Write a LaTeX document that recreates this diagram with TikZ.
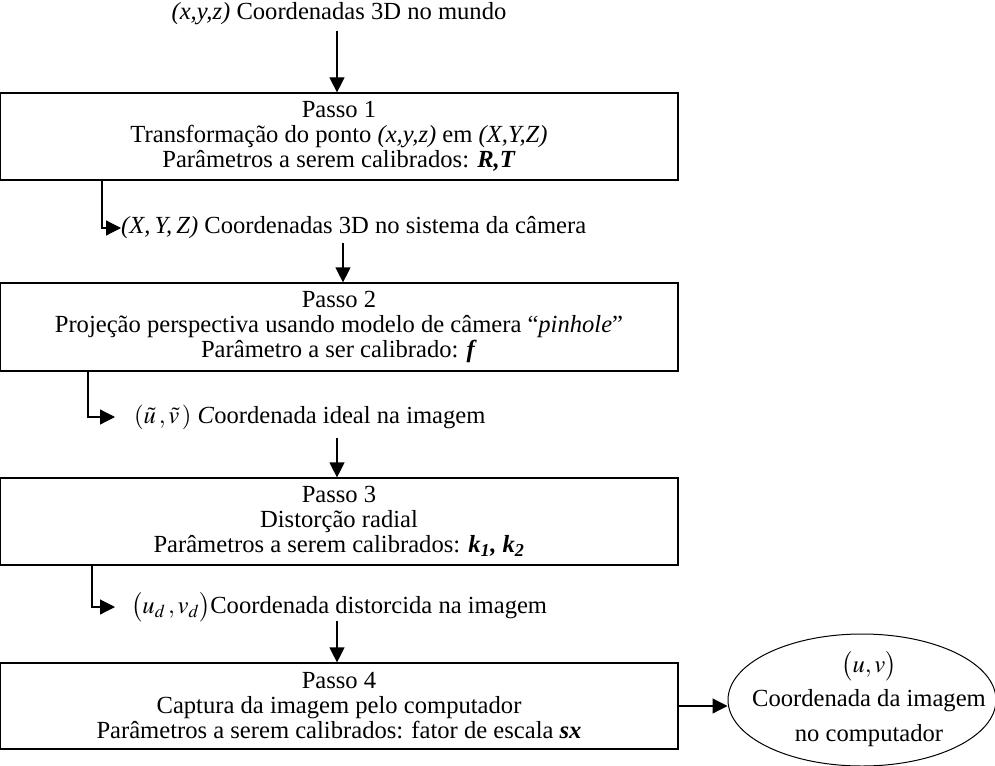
\documentclass[tikz,border=0pt]{standalone}
\usepackage{mathptmx}
\usepackage[no-math]{fontspec}
\setmainfont{Liberation Serif}
\usetikzlibrary{arrows.meta,shapes.geometric}

\begin{document}
\begin{tikzpicture}[x=1pt,y=-1pt,
  txt/.style={font=\fontsize{24.6}{25}\selectfont, inner sep=0pt},
  stepbox/.style={txt, draw, line width=1.2pt, minimum width=678pt, align=center},
  arr/.style={line width=1.2pt, -{Triangle[length=15pt,width=15pt]}},
]
\useasboundingbox (0,0) rectangle (995,765);

% input coordinates
\node[txt] (top) at (339,14) {\textit{(x,y,z)} Coordenadas 3D no mundo};

% step 1
\node[stepbox, minimum height=87pt] (b1) at (339,136.5)
  {Passo 1\\Transformação do ponto \textit{(x,y,z)} em \textit{(X,Y,Z)}\\Parâmetros a serem calibrados: \textbf{\textit{R,T}}};
\coordinate (a0) at (337,31);
\draw[arr] (a0) -- (a0 |- b1.north);

\node[txt, anchor=west] (c1) at (121,228) {\textit{(X,\,Y,\,Z)} Coordenadas 3D no sistema da câmera};
\coordinate (l1) at (102,0);
\draw[arr] (l1 |- b1.south) |- (c1.west);

% step 2
\node[stepbox, minimum height=88pt] (b2) at (339,327)
  {Passo 2\\Projeção perspectiva usando modelo de câmera “\textit{pinhole}”\\Parâmetro a ser calibrado: \textbf{\textit{f}}};
\coordinate (a1) at (343,243);
\draw[arr] (a1) -- (a1 |- b2.north);

\node[txt, anchor=west] (c2) at (134,417) {$(\tilde{u}\,,\tilde{v}\,)$ \textit{C}oordenada ideal na imagem};
\coordinate (l2) at (88,0);
\draw[arr] (l2 |- b2.south) |- ([xshift=-19pt]c2.west);

% step 3
\node[stepbox, minimum height=87pt] (b3) at (339,521.5)
  {Passo 3\\Distorção radial\\Parâmetros a serem calibrados: \textbf{\textit{k}\textsubscript{\textit{1}}\textit{, k}\textsubscript{\textit{2}}}};
\coordinate (a2) at (337,438);
\draw[arr] (a2) -- (a2 |- b3.north);

\node[txt, anchor=west] (c3) at (131,607) {$\bigl(u_d\,,v_d\bigr)$Coordenada distorcida na imagem};
\coordinate (l3) at (92,0);
\draw[arr] (l3 |- b3.south) |- ([xshift=-16pt]c3.west);

% step 4
\node[stepbox, minimum height=86pt] (b4) at (339,706)
  {Passo 4\\Captura da imagem pelo computador\\Parâmetros a serem calibrados: fator de escala \textbf{\textit{sx}}};
\coordinate (a3) at (337,621);
\draw[arr] (a3) -- (a3 |- b4.north);

% output
\node[ellipse, draw, line width=1pt, minimum width=268pt, minimum height=132pt, inner sep=0pt] (ell) at (862,700) {};
\node[txt, align=center] (ellt) at (869,699) {$\bigl(u,v\bigr)$\\[8pt]Coordenada da imagem\\[10pt]no computador};
\draw[arr] (b4.east) -- (b4.east -| ell.west);
\end{tikzpicture}
\end{document}
